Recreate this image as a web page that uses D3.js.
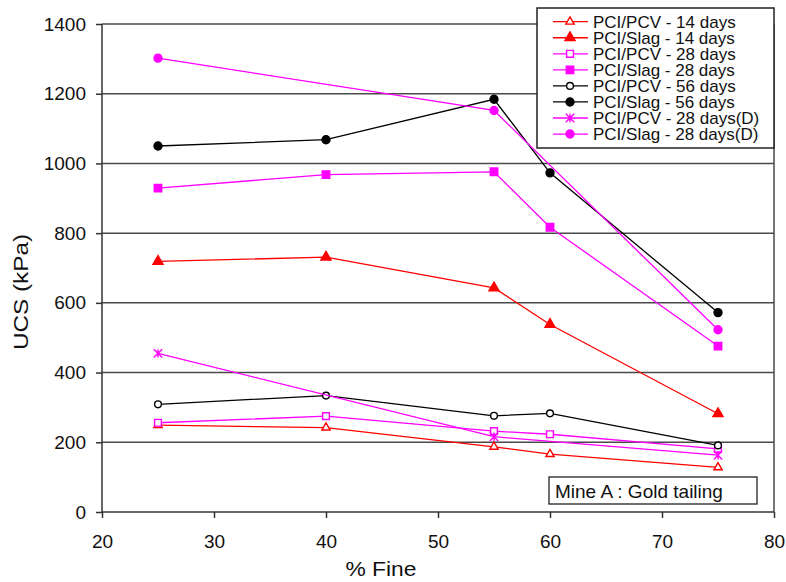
<!DOCTYPE html>
<html>
<head>
<meta charset="utf-8">
<script src="https://cdn.jsdelivr.net/npm/d3@7"></script>
<style>
  html, body { margin: 0; padding: 0; background: #fff; }
  svg { display: block; font-family: "Liberation Sans", Arial, sans-serif; }
</style>
</head>
<body>
<svg id="chart" width="786" height="582"></svg>
<script>
// ---- data ----
const fine = [25, 40, 55, 60, 75];
const fineD = [25, 55, 75];
const pcv14 = [249, 242, 187, 166, 128];
const slag14 = [719, 731, 643, 538, 282];
const pcv28 = [256, 275, 232, 223, 181];
const slag28 = [929, 968, 976, 817, 476];
const pcv56 = [309, 334, 276, 283, 191];
const slag56 = [1050, 1068, 1184, 973, 572];
const pcv28D = [455, 216, 163];
const slag28D = [1302, 1152, 523];
const seriesNames = [
  "PCI/PCV - 14 days", "PCI/Slag - 14 days",
  "PCI/PCV - 28 days", "PCI/Slag - 28 days",
  "PCI/PCV - 56 days", "PCI/Slag - 56 days",
  "PCI/PCV - 28 days(D)", "PCI/Slag - 28 days(D)"
];
const xTicks = [20, 30, 40, 50, 60, 70, 80];
const yTicks = [0, 200, 400, 600, 800, 1000, 1200, 1400];
const xTitle = "% Fine";
const yTitle = "UCS (kPa)";
const noteText = "Mine A : Gold tailing";

// ---- styling table ----
const series = [
  { name: seriesNames[0], xs: fine,  ys: pcv14,   color: "#ff0000", marker: "triangle", filled: false },
  { name: seriesNames[1], xs: fine,  ys: slag14,  color: "#ff0000", marker: "triangle", filled: true },
  { name: seriesNames[2], xs: fine,  ys: pcv28,   color: "#ff00ff", marker: "square",   filled: false },
  { name: seriesNames[3], xs: fine,  ys: slag28,  color: "#ff00ff", marker: "square",   filled: true },
  { name: seriesNames[4], xs: fine,  ys: pcv56,   color: "#000000", marker: "circle",   filled: false },
  { name: seriesNames[5], xs: fine,  ys: slag56,  color: "#000000", marker: "circle",   filled: true },
  { name: seriesNames[6], xs: fineD, ys: pcv28D,  color: "#ff00ff", marker: "star",     filled: false },
  { name: seriesNames[7], xs: fineD, ys: slag28D, color: "#ff00ff", marker: "circle",   filled: true }
];

const svg = d3.select("#chart");
const L = 102, R = 774, T = 24, B = 512;
const x = d3.scaleLinear().domain([20, 80]).range([L, R]);
const y = d3.scaleLinear().domain([0, 1400]).range([B, T]);

// gridlines
svg.append("g").selectAll("line").data(yTicks.filter(v => v > 0)).join("line")
  .attr("x1", L).attr("x2", R)
  .attr("y1", d => y(d)).attr("y2", d => y(d))
  .attr("stroke", "#4a4a4a").attr("stroke-width", 1.5);
// right border
svg.append("line").attr("x1", R).attr("x2", R).attr("y1", T).attr("y2", B)
  .attr("stroke", "#4a4a4a").attr("stroke-width", 1.5);

// axes
const yAxis = d3.axisLeft(y).tickValues(yTicks).tickSize(6).tickPadding(10).tickFormat(d3.format("d"));
const xAxis = d3.axisBottom(x).tickValues(xTicks).tickSize(6).tickPadding(17).tickFormat(d3.format("d"));
const gy = svg.append("g").attr("transform", `translate(${L},0)`).call(yAxis);
const gx = svg.append("g").attr("transform", `translate(0,${B})`).call(xAxis);
[gx, gy].forEach(g => {
  g.select(".domain").attr("stroke", "#333").attr("stroke-width", 1.5);
  g.selectAll(".tick line").attr("stroke", "#333").attr("stroke-width", 1.5);
  g.selectAll(".tick text").attr("font-size", 19).attr("fill", "#111")
    .attr("font-family", "'Liberation Sans', Arial, sans-serif");
});
gy.select(".domain").attr("d", `M0,${B}V${T}`);
gx.select(".domain").attr("d", `M${L},0H${R}`);

// axis titles
svg.append("text").attr("x", 381).attr("y", 576).attr("text-anchor", "middle")
  .attr("font-size", 20).attr("textLength", 71).attr("lengthAdjust", "spacingAndGlyphs")
  .attr("fill", "#111").text(xTitle);
svg.append("text").attr("transform", "translate(28,292) rotate(-90)").attr("text-anchor", "middle")
  .attr("font-size", 21).attr("textLength", 116).attr("lengthAdjust", "spacingAndGlyphs")
  .attr("fill", "#111").text(yTitle);

// marker drawing
function drawMarker(g, s, cx, cy) {
  const fill = s.filled ? s.color : "#fff";
  if (s.marker === "star") {
    const r = 4.2;
    g.append("path")
      .attr("d", `M${cx},${cy - r}V${cy + r}M${cx - r},${cy - r}L${cx + r},${cy + r}M${cx - r},${cy + r}L${cx + r},${cy - r}`)
      .attr("stroke", s.color).attr("stroke-width", 1.4).attr("fill", "none");
    return;
  }
  let type, size;
  if (s.marker === "triangle") { type = d3.symbolTriangle; size = s.filled ? 44 : 30; }
  else if (s.marker === "square") { type = d3.symbolSquare; size = s.filled ? 56 : 46; }
  else { type = d3.symbolCircle; size = s.filled ? 50 : 36; }
  g.append("path").attr("d", d3.symbol(type, size)())
    .attr("transform", `translate(${cx},${cy})`)
    .attr("fill", fill).attr("stroke", s.color).attr("stroke-width", 1.4);
}

// series
const line = d3.line().x(d => x(d[0])).y(d => y(d[1]));
series.forEach(s => {
  const pts = s.xs.map((v, i) => [v, s.ys[i]]);
  const g = svg.append("g");
  g.append("path").attr("d", line(pts)).attr("fill", "none")
    .attr("stroke", s.color).attr("stroke-width", 1.3);
  pts.forEach(p => drawMarker(g, s, x(p[0]), y(p[1])));
});

// legend
const lg = svg.append("g");
lg.append("rect").attr("x", 537).attr("y", 8).attr("width", 237).attr("height", 140)
  .attr("fill", "#fff").attr("stroke", "#222").attr("stroke-width", 1.5);
series.forEach((s, i) => {
  const cy = 21.7 + i * 16.05;
  lg.append("line").attr("x1", 553).attr("x2", 588).attr("y1", cy).attr("y2", cy)
    .attr("stroke", s.color).attr("stroke-width", 1.3);
  drawMarker(lg, s, 570, cy);
  lg.append("text").attr("x", 593).attr("y", cy + 5.8).attr("font-size", 17)
    .attr("fill", "#111").text(s.name);
});

// note box
const ng = svg.append("g");
ng.append("rect").attr("x", 549).attr("y", 477).attr("width", 208).attr("height", 27)
  .attr("fill", "#fff").attr("stroke", "#222").attr("stroke-width", 1.3);
ng.append("text").attr("x", 555).attr("y", 498).attr("font-size", 19)
  .attr("fill", "#111").text(noteText);
</script>
</body>
</html>
